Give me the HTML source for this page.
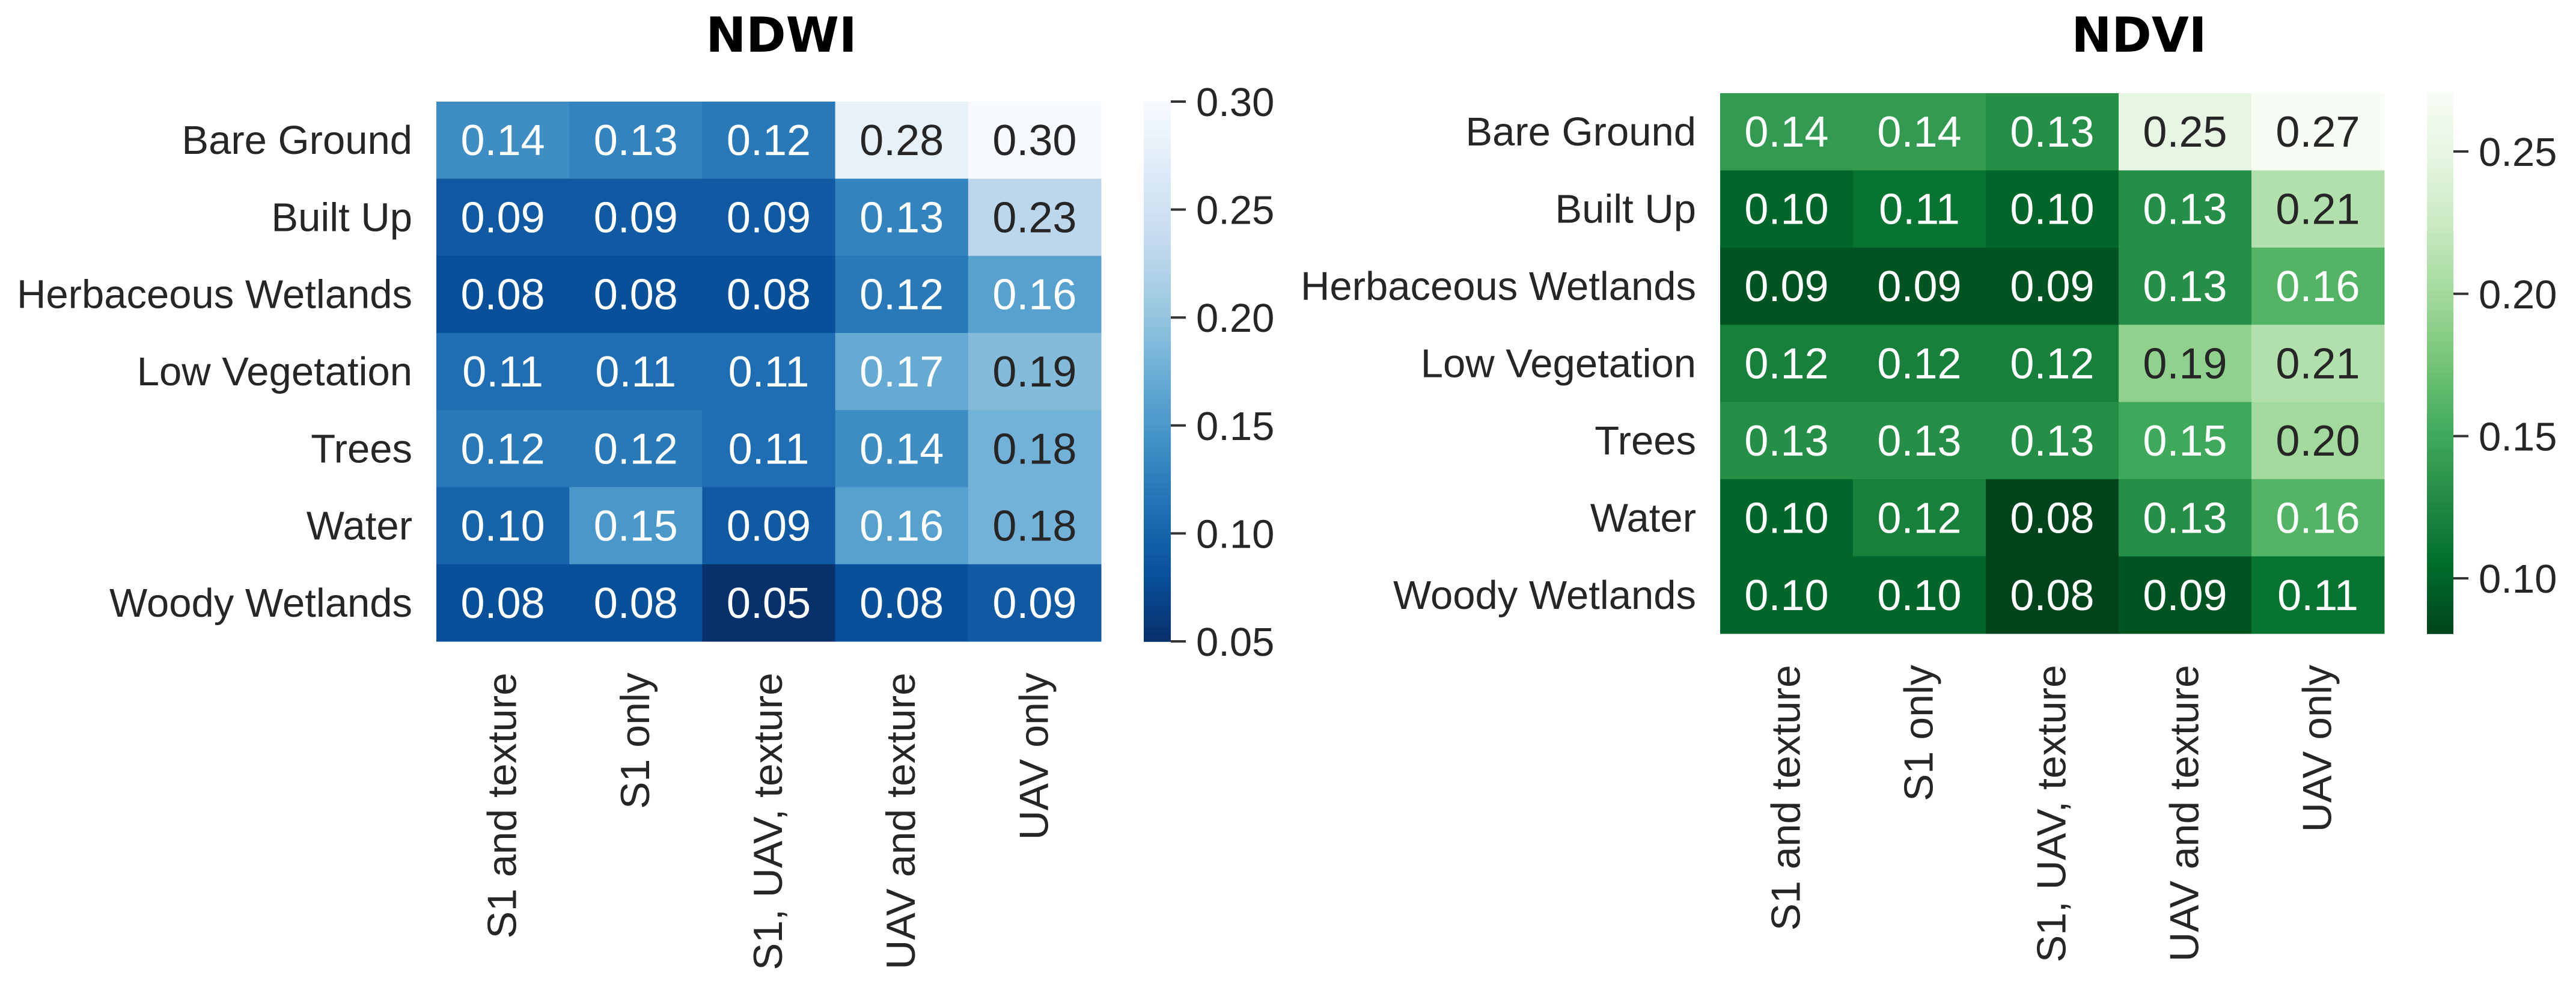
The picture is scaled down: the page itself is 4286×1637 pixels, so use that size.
<!DOCTYPE html>
<html><head><meta charset="utf-8">
<style>
html,body{margin:0;padding:0;background:#fff;}
svg{display:block;}
text{font-family:"Liberation Sans",Arial,sans-serif;}
</style></head>
<body>
<svg id="chart" width="4286" height="1637" viewBox="0 0 4286 1637" xmlns="http://www.w3.org/2000/svg">
<rect x="0" y="0" width="4286" height="1637" fill="#fff"/>
</svg>
<script>
const rowLabels = ["Bare Ground","Built Up","Herbaceous Wetlands","Low Vegetation","Trees","Water","Woody Wetlands"];
const colLabels = ["S1 and texture","S1 only","S1, UAV, texture","UAV and texture","UAV only"];
const ndwiValues = [
 [0.14,0.13,0.12,0.28,0.30],
 [0.09,0.09,0.09,0.13,0.23],
 [0.08,0.08,0.08,0.12,0.16],
 [0.11,0.11,0.11,0.17,0.19],
 [0.12,0.12,0.11,0.14,0.18],
 [0.10,0.15,0.09,0.16,0.18],
 [0.08,0.08,0.05,0.08,0.09]
];
const ndviValues = [
 [0.14,0.14,0.13,0.25,0.27],
 [0.10,0.11,0.10,0.13,0.21],
 [0.09,0.09,0.09,0.13,0.16],
 [0.12,0.12,0.12,0.19,0.21],
 [0.13,0.13,0.13,0.15,0.20],
 [0.10,0.12,0.08,0.13,0.16],
 [0.10,0.10,0.08,0.09,0.11]
];
const ndwiRange = [0.05,0.30];
const ndviRange = [0.0806,0.2705];
const ndwiTicks = [0.05,0.10,0.15,0.20,0.25,0.30];
const ndviTicks = [0.10,0.15,0.20,0.25];

const BLUES = ["#f7fbff","#deebf7","#c6dbef","#9ecae1","#6baed6","#4292c6","#2171b5","#08519c","#08306b"];
const GREENS = ["#f7fcf5","#e5f5e0","#c7e9c0","#a1d99b","#74c476","#41ab5d","#238b45","#006d2c","#00441b"];
function hex(h){return [parseInt(h.substr(1,2),16),parseInt(h.substr(3,2),16),parseInt(h.substr(5,2),16)];}
function cmap(stops,t){
  t=Math.max(0,Math.min(1,t));
  const p=t*(stops.length-1), i=Math.min(Math.floor(p),stops.length-2), f=p-i;
  const a=hex(stops[i]), b=hex(stops[i+1]);
  return [0,1,2].map(k=>Math.round(a[k]+(b[k]-a[k])*f));
}
function lum(c){
  const l=c.map(v=>{v/=255;return v<=0.03928?v/12.92:Math.pow((v+0.055)/1.055,2.4);});
  return 0.2126*l[0]+0.7152*l[1]+0.0722*l[2];
}
const NS="http://www.w3.org/2000/svg";
const svg=document.getElementById("chart");
function el(tag,attrs,parent){const e=document.createElementNS(NS,tag);for(const k in attrs)e.setAttribute(k,attrs[k]);(parent||svg).appendChild(e);return e;}

function drawPanel(cfg){
  const g=el("g",{});
  
  
  const nR=rowLabels.length,nC=colLabels.length;
  const cw=(cfg.x1-cfg.x0)/nC, ch=(cfg.y1-cfg.y0)/nR;
  const xPos=j=>cfg.x0+j*cw, yPos=i=>cfg.y0+i*ch;
  const norm=v=>(v-cfg.range[0])/(cfg.range[1]-cfg.range[0]);
  const t=el("text",{x:cfg.titleX,y:86,"text-anchor":"middle","font-size":80,"font-weight":"bold",fill:"#000",style:'font-family:"DejaVu Sans",sans-serif'},g);
  t.textContent=cfg.title;
  
  
  for(let i=0;i<nR;i++)for(let j=0;j<nC;j++){
    const v=cfg.values[i][j];
    const c=cmap(cfg.stops,1-norm(v));
    const r=el("rect",{x:xPos(j),y:yPos(i),width:cw+0.5,height:ch+0.5,fill:`rgb(${c[0]},${c[1]},${c[2]})`},g);
    
    
    const tx=el("text",{x:xPos(j)+cw/2,y:yPos(i)+ch/2+25,"text-anchor":"middle","font-size":72,fill:lum(c)<0.38?"#ffffff":"#262626"},g);
    tx.textContent=v.toFixed(2);
    
    
  }
  rowLabels.forEach((lab,i)=>{
    const tx=el("text",{x:cfg.x0-40,y:yPos(i)+ch/2+23,"text-anchor":"end","font-size":67,fill:"#262626"},g);
    tx.textContent=lab;
    
    
  });
  colLabels.forEach((lab,j)=>{
    const cx=xPos(j)+cw/2+22, cy=cfg.y1+52;
    const tx=el("text",{x:cx,y:cy,"text-anchor":"end","font-size":68,fill:"#262626",transform:`rotate(-90 ${cx} ${cy})`},g);
    tx.textContent=lab;
    
    
  });
  const cb=el("g",{},g);
  
  
  const N=120, H=cfg.y1-cfg.y0;
  for(let k=0;k<N;k++){
    const c=cmap(cfg.stops,(k+0.5)/N);
    el("rect",{x:cfg.cbx0,y:cfg.y0+k*H/N,width:cfg.cbx1-cfg.cbx0,height:H/N+0.8,fill:`rgb(${c[0]},${c[1]},${c[2]})`},cb);
  }
  const yVal=v=>cfg.y1-norm(v)*H;
  cfg.ticks.forEach(v=>{
    const y=yVal(v);
    const ln=el("line",{x1:cfg.cbx1,x2:cfg.cbx1+25,y1:y,y2:y,stroke:"#333",'stroke-width':4},cb);
    
    
    const tx=el("text",{x:cfg.cbx1+42,y:y+24,"font-size":67,fill:"#262626"},cb);
    tx.textContent=v.toFixed(2);
    
    
  });
}
drawPanel({name:"ndwi",title:"NDWI",titleX:1300,values:ndwiValues,range:ndwiRange,ticks:ndwiTicks,stops:BLUES,
  x0:726,x1:1832,y0:169,y1:1067,cbx0:1903,cbx1:1948});
drawPanel({name:"ndvi",title:"NDVI",titleX:3559,values:ndviValues,range:ndviRange,ticks:ndviTicks,stops:GREENS,
  x0:2862,x1:3967,y0:155,y1:1054,cbx0:4038,cbx1:4082});
</script>
</body></html>
